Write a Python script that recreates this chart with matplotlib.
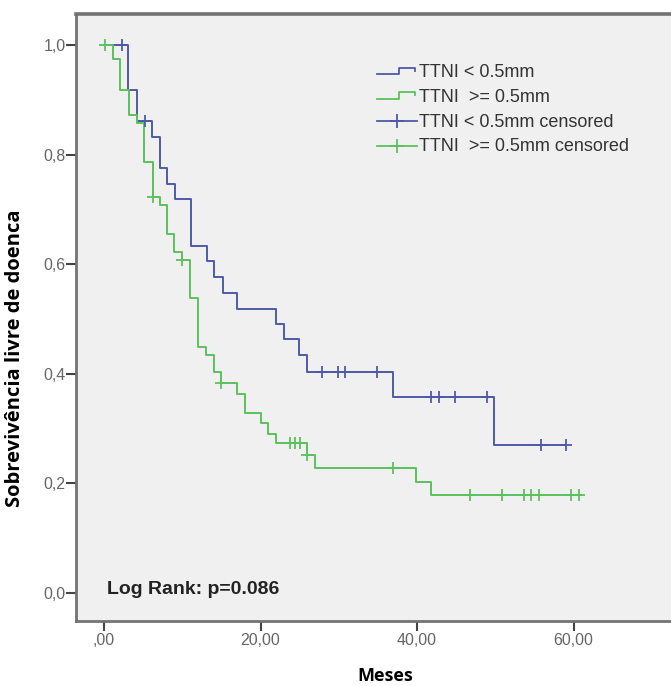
import numpy as np
import matplotlib
matplotlib.use("Agg")
import matplotlib.pyplot as plt
from matplotlib.lines import Line2D
from matplotlib.legend_handler import HandlerBase

# ---------------- data ----------------
blue_times = [0, 3.1, 4.2, 6.1, 7.1, 8.1, 9.1, 11.1, 13.1, 14.1, 15.2, 17.0,
              22.0, 23.0, 24.9, 25.9, 36.9, 49.8]
blue_surv = [1.0, 0.918, 0.862, 0.833, 0.775, 0.747, 0.719, 0.633, 0.605,
             0.576, 0.548, 0.518, 0.491, 0.463, 0.434, 0.404, 0.358, 0.270]
blue_end = 59.0
blue_cens = [2.3, 5.2, 27.9, 29.9, 30.8, 34.9, 41.8, 42.8, 44.8, 48.9, 55.8, 59.0]

green_times = [0, 1.2, 2.1, 3.2, 4.2, 5.1, 6.2, 7.2, 8.0, 9.0, 10.0, 11.0, 12.0,
               13.0, 14.0, 15.0, 17.0, 18.0, 20.0, 21.0, 22.0, 25.9, 27.0,
               39.9, 41.8]
green_surv = [1.0, 0.975, 0.918, 0.872, 0.858, 0.787, 0.723, 0.708, 0.656,
              0.623, 0.608, 0.538, 0.449, 0.434, 0.404, 0.383, 0.364, 0.329,
              0.310, 0.291, 0.273, 0.252, 0.229, 0.203, 0.179]
green_end = 61.0
green_cens = [0.1, 6.2, 10.0, 15.0, 23.7, 24.4, 25.1, 25.9, 36.9, 46.8, 50.8,
              53.6, 54.6, 55.6, 59.7, 60.7]

labels = ["TTNI < 0.5mm", "TTNI  >= 0.5mm", "TTNI < 0.5mm censored",
          "TTNI  >= 0.5mm censored"]
xticks = [0, 20, 40, 60]
xticklabels = [",00", "20,00", "40,00", "60,00"]
yticks = [0.0, 0.2, 0.4, 0.6, 0.8, 1.0]
yticklabels = ["0,0", "0,2", "0,4", "0,6", "0,8", "1,0"]
pvalue_text = "Log Rank: p=0.086"

BLUE = "#4f5aa6"
GREEN = "#5cc05c"
BG = "#f0f0f0"


def step_value(times, surv, t):
    idx = np.searchsorted(np.asarray(times), t, side="right") - 1
    return np.asarray(surv)[idx]


fig = plt.figure(figsize=(6.71, 6.86), dpi=100)
fig.patch.set_facecolor("white")
ax = fig.add_axes([76 / 671, 1 - 621 / 686, (673 - 76) / 671, (621 - 14) / 686])
ax.set_facecolor(BG)

for times, surv, end, cens, col in [
    (blue_times, blue_surv, blue_end, blue_cens, BLUE),
    (green_times, green_surv, green_end, green_cens, GREEN),
]:
    tx = list(times) + [end]
    sy = list(surv) + [surv[-1]]
    ax.step(tx, sy, where="post", color=col, lw=1.4, zorder=3)
    cy = [step_value(times, surv, t) for t in cens]
    ax.plot(cens, cy, ls="none", marker="+", ms=8, mew=1.3, color=col, zorder=4)

ax.set_xlim(-3.58, 72.7)
ax.set_ylim(-0.051, 1.0566)
ax.set_xticks(xticks)
ax.set_xticklabels(xticklabels)
ax.set_yticks(yticks)
ax.set_yticklabels(yticklabels)
ax.tick_params(axis="both", direction="out", length=7, width=1.5,
               color="#444444", labelcolor="#666666", labelsize=11.5,
               labelfontfamily="Liberation Sans")
ax.tick_params(axis="x", pad=1.5)
ax.tick_params(axis="y", pad=0.5)
for side, sp in ax.spines.items():
    sp.set_color("#737373")
    sp.set_linewidth(2.0)
ax.spines["top"].set_linewidth(2.6)

fig.text(15 / 671, 1 - 358 / 686, "Sobrevivência livre de doenca", rotation=90,
         ha="center", va="center", fontsize=14.5, fontweight="bold",
         family=["Open Sans", "DejaVu Sans"])
fig.text(385 / 671, 1 - 676 / 686, "Meses", ha="center", va="center",
         fontsize=13, fontweight="bold", family=["Open Sans", "DejaVu Sans"])

ax.text(107, 686 - 590, pvalue_text, transform=None, fontsize=14, fontweight="bold",
        family=["Liberation Sans Narrow", "Liberation Sans"], color="#222222",
        va="center", ha="left")


class HandlerStep(HandlerBase):
    def create_artists(self, legend, orig_handle, xdescent, ydescent, width,
                       height, fontsize, trans):
        xs = np.array([0.0, 0.55, 0.55, 0.95, 0.95]) * width - xdescent
        ys = np.array([0.2, 0.2, 0.75, 0.75, 0.5]) * height - ydescent
        ln = Line2D(xs, ys, color=orig_handle.get_color(), lw=1.3,
                    transform=trans)
        return [ln]


class HandlerCens(HandlerBase):
    def create_artists(self, legend, orig_handle, xdescent, ydescent, width,
                       height, fontsize, trans):
        y = 0.4 * height - ydescent
        ln = Line2D([-xdescent, width - xdescent], [y, y],
                    color=orig_handle.get_color(), lw=1.3, transform=trans)
        mk = Line2D([0.5 * width - xdescent], [y], ls="none", marker="+",
                    ms=10, mew=1.3, color=orig_handle.get_color(),
                    transform=trans)
        return [ln, mk]


h1 = Line2D([], [], color=BLUE)
h2 = Line2D([], [], color=GREEN)
h3 = Line2D([], [], color=BLUE)
h4 = Line2D([], [], color=GREEN)
leg = ax.legend([h1, h2, h3, h4], labels,
                handler_map={h1: HandlerStep(), h2: HandlerStep(),
                             h3: HandlerCens(), h4: HandlerCens()},
                loc="upper left", bbox_to_anchor=(377 / 671, 1 - 64 / 686),
                bbox_transform=fig.transFigure, frameon=False,
                prop={"family": "Liberation Sans", "size": 13},
                handlelength=2.2, handletextpad=0.1, labelspacing=0.43,
                borderpad=0, borderaxespad=0)
for t in leg.get_texts():
    t.set_color("#333333")

fig.savefig("out.png", dpi=100)
